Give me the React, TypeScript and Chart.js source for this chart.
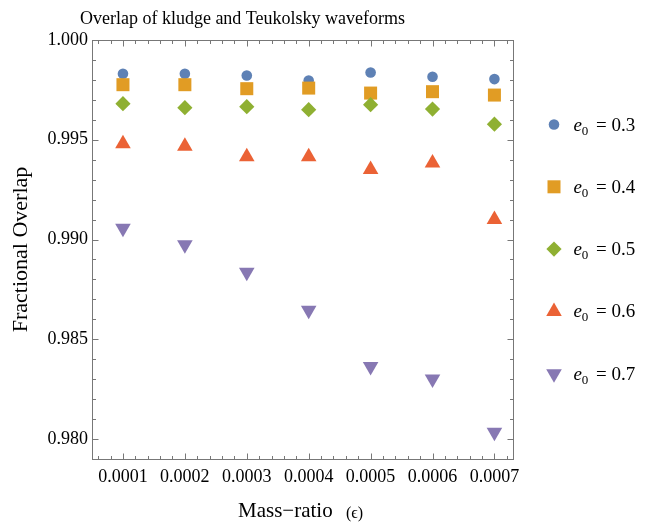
import React, { useEffect, useRef } from 'react';
import { Chart, registerables } from 'chart.js';
import { drawPoint } from 'chart.js/helpers';

Chart.register(...registerables);

// ---- data ----
const massRatios = [0.0001, 0.0002, 0.0003, 0.0004, 0.0005, 0.0006, 0.0007];
const overlapE03 = [0.99831, 0.99831, 0.99822, 0.99797, 0.99837, 0.99816, 0.99804];
const overlapE04 = [0.99776, 0.99776, 0.99756, 0.99759, 0.99734, 0.99741, 0.99724];
const overlapE05 = [0.99681, 0.99661, 0.99666, 0.99651, 0.99676, 0.99654, 0.99578];
const overlapE06 = [0.99480, 0.99468, 0.99415, 0.99415, 0.99351, 0.99383, 0.99100];
const overlapE07 = [0.99057, 0.98974, 0.98836, 0.98646, 0.98364, 0.98301, 0.98034];
const eccentricities = ['0.3', '0.4', '0.5', '0.6', '0.7'];
const xTickValues = [0.0001, 0.0002, 0.0003, 0.0004, 0.0005, 0.0006, 0.0007];
const yTickValues = [0.98, 0.985, 0.99, 0.995, 1.0];
const xMinorTicks = [0.00006, 0.00008, 0.00012, 0.00014, 0.00016, 0.00018, 0.00022, 0.00024, 0.00026, 0.00028,
  0.00032, 0.00034, 0.00036, 0.00038, 0.00042, 0.00044, 0.00046, 0.00048, 0.00052, 0.00054, 0.00056, 0.00058,
  0.00062, 0.00064, 0.00066, 0.00068, 0.00072];
const yMinorTicks = [0.981, 0.982, 0.983, 0.984, 0.986, 0.987, 0.988, 0.989, 0.991, 0.992, 0.993, 0.994,
  0.996, 0.997, 0.998, 0.999];

const COLORS = ['#5E81B5', '#E19C24', '#8FB032', '#EB6235', '#8778B3'];
const STYLES: any[] = ['circle', 'rect', 'rectRot', 'triangle', 'triangle'];
const ROTATIONS = [0, 0, 0, 0, 180];
const RADII = [5.3, 9.2, 7.6, 9, 9];
const FRAME = '#777777';
const SERIF = '"Liberation Serif", "Times New Roman", serif';

const seriesValues = [overlapE03, overlapE04, overlapE05, overlapE06, overlapE07];

const decorPlugin = {
  id: 'decor',
  afterDraw(chart: any) {
    const { ctx, chartArea, scales } = chart;
    const { left, right, top, bottom } = chartArea;
    const xs = scales.x;
    const ys = scales.y;
    const r = (v: number) => Math.round(v) + 0.5;
    ctx.save();
    ctx.strokeStyle = FRAME;
    ctx.lineWidth = 1;
    const L = r(left), R = r(right), T = r(top), B = r(bottom);
    ctx.strokeRect(L, T, R - L, B - T);
    ctx.beginPath();
    const tickX = (v: number, len: number) => {
      const p = r(xs.getPixelForValue(v));
      ctx.moveTo(p, B); ctx.lineTo(p, B - len);
      ctx.moveTo(p, T); ctx.lineTo(p, T + len);
    };
    const tickY = (v: number, len: number) => {
      const p = r(ys.getPixelForValue(v));
      ctx.moveTo(L, p); ctx.lineTo(L + len, p);
      ctx.moveTo(R, p); ctx.lineTo(R - len, p);
    };
    xTickValues.forEach((v) => tickX(v, 6));
    xMinorTicks.forEach((v) => tickX(v, 3.5));
    yTickValues.forEach((v) => tickY(v, 6));
    yMinorTicks.forEach((v) => tickY(v, 3.5));
    ctx.stroke();

    // title
    ctx.fillStyle = '#000';
    ctx.font = `18px ${SERIF}`;
    ctx.textAlign = 'center';
    ctx.textBaseline = 'alphabetic';
    ctx.fillText('Overlap of kludge and Teukolsky waveforms', 242.5, 24);

    // x axis title
    ctx.textAlign = 'left';
    ctx.font = `21px ${SERIF}`;
    ctx.fillText('Mass\u2212ratio', 238, 516.5);
    ctx.font = `16px ${SERIF}`;
    ctx.fillText('(\u03F5)', 346, 517.5);

    // legend
    const lx = 554;
    const tx = 573.5;
    eccentricities.forEach((e, i) => {
      const cy = 124.5 + i * 62.3;
      ctx.fillStyle = COLORS[i];
      drawPoint(ctx, { pointStyle: STYLES[i], radius: RADII[i], rotation: ROTATIONS[i], borderWidth: 0 } as any, lx, cy);
      ctx.fillStyle = '#000';
      const base = cy + 6;
      ctx.font = `italic 19px ${SERIF}`;
      ctx.fillText('e', tx, base);
      ctx.font = `13px ${SERIF}`;
      ctx.fillText('0', tx + 8.2, base + 4);
      ctx.font = `19px ${SERIF}`;
      ctx.fillText('=', tx + 22.5, base);
      ctx.fillText(e, tx + 38, base);
    });
    ctx.restore();
  },
};

export default function App() {
  const canvasRef = useRef<HTMLCanvasElement | null>(null);

  useEffect(() => {
    if (!canvasRef.current) return;
    const datasets = seriesValues.map((vals, i) => ({
      label: `e0 = ${eccentricities[i]}`,
      data: massRatios.map((m, j) => ({ x: m, y: vals[j] })),
      pointStyle: STYLES[i],
      pointRotation: ROTATIONS[i],
      pointRadius: RADII[i],
      pointHoverRadius: RADII[i],
      pointBackgroundColor: COLORS[i],
      pointBorderWidth: 0,
      backgroundColor: COLORS[i],
      borderColor: COLORS[i],
      showLine: false,
      order: 5 - i,
    }));
    const chart = new Chart(canvasRef.current, {
      type: 'scatter',
      data: { datasets },
      plugins: [decorPlugin],
      options: {
        animation: false,
        responsive: false,
        devicePixelRatio: 1,
        layout: { padding: { left: 0, top: 40, right: 139, bottom: 0 } },
        plugins: { legend: { display: false }, tooltip: { enabled: false }, title: { display: false } },
        scales: {
          x: {
            type: 'linear',
            min: 0.00005,
            max: 0.00073,
            grid: { display: false, drawTicks: false },
            border: { display: false },
            afterFit: (s: any) => { s.height = 64; },
            afterBuildTicks: (s: any) => { s.ticks = xTickValues.map((v) => ({ value: v })); },
            ticks: {
              padding: 7,
              color: '#000',
              font: { family: SERIF, size: 18 },
              maxRotation: 0,
              autoSkip: false,
              callback: (v: any) => Number(v).toFixed(4),
            },
          },
          y: {
            type: 'linear',
            min: 0.979,
            max: 1.0,
            grid: { display: false, drawTicks: false },
            border: { display: false },
            afterFit: (s: any) => { s.width = 92; },
            afterBuildTicks: (s: any) => { s.ticks = yTickValues.map((v) => ({ value: v })); },
            title: {
              display: true,
              text: 'Fractional Overlap',
              color: '#000',
              font: { family: SERIF, size: 22 },
              padding: { top: 8, bottom: 0 },
            },
            ticks: {
              padding: 4,
              color: '#000',
              font: { family: SERIF, size: 18 },
              autoSkip: false,
              callback: (v: any) => Number(v).toFixed(3),
            },
          },
        },
      },
    });
    return () => chart.destroy();
  }, []);

  return (
    <div style={{ position: 'absolute', left: 0, top: 0, width: 652, height: 523, background: '#fff' }}>
      <canvas ref={canvasRef} width={652} height={523} style={{ display: 'block' }} />
    </div>
  );
}
